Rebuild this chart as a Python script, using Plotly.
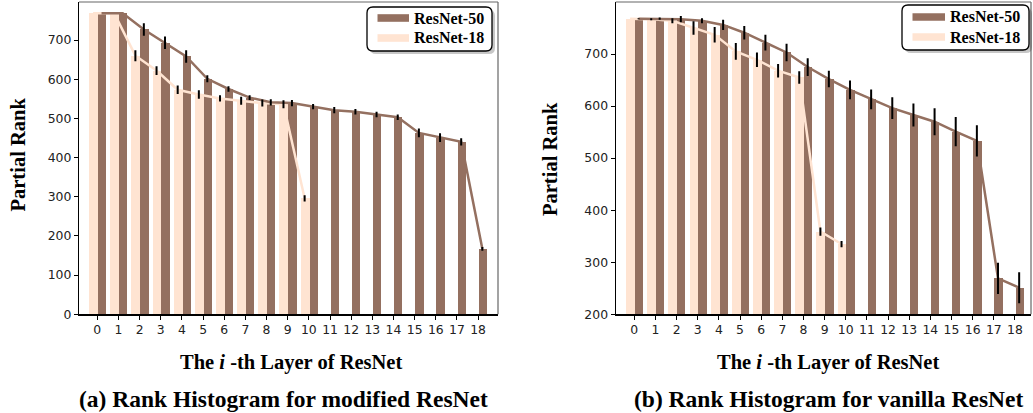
import plotly.graph_objects as go

W, H = 1033, 413

layers50 = list(range(19))
layers18 = list(range(11))

# (a) modified ResNet
r50_mod = [768, 768, 727, 693, 658, 601, 575, 553, 541, 539, 530, 521, 517, 510, 503, 463, 451, 440, 167]
r50_mod_err = [0, 0, 16, 16, 16, 9, 7, 6, 8, 8, 7, 8, 7, 7, 7, 11, 11, 9, 5]
r18_mod = [768, 768, 660, 622, 573, 561, 551, 545, 539, 536, 296]
r18_mod_err = [0, 0, 14, 11, 11, 11, 8, 10, 9, 10, 8]

# (b) vanilla ResNet
r50_van = [768, 768, 767, 764, 756, 741, 722, 703, 675, 652, 631, 613, 596, 583, 570, 551, 533, 269, 251]
r50_van_err = [1, 2, 6, 5, 10, 13, 15, 17, 17, 16, 18, 19, 21, 22, 26, 28, 30, 30, 30]
r18_van = [768, 767, 764, 750, 737, 705, 689, 668, 655, 359, 335]
r18_van_err = [0, 2, 5, 13, 15, 16, 14, 13, 12, 8, 6]

series_names = ["ResNet-50", "ResNet-18"]
x_title = "<b>The <i>i</i> -th Layer of ResNet</b>"
y_title = "<b>Partial Rank</b>"
captions = ["<b>(a) Rank Histogram for modified ResNet</b>",
            "<b>(b) Rank Histogram for vanilla ResNet</b>"]

BROWN = "#947060"
PEACH = "#FFE4D2"
SERIF = "Liberation Serif"


def px_x(p):
    return p / W


def px_y(p):
    return 1 - p / H


fig = go.Figure()


def add_panel(xa, ya, r50, e50, r18, e18):
    xr = "x" if xa == 1 else f"x{xa}"
    yr = "y" if ya == 1 else f"y{ya}"
    fig.add_trace(go.Bar(x=layers18, y=r18, offset=-0.39, width=0.42,
                         marker=dict(color=PEACH, line=dict(width=0)),
                         xaxis=xr, yaxis=yr, showlegend=False, name=series_names[1]))
    fig.add_trace(go.Bar(x=layers50, y=r50, offset=0.03, width=0.39,
                         marker=dict(color=BROWN, line=dict(width=0)),
                         xaxis=xr, yaxis=yr, showlegend=False, name=series_names[0]))
    x18 = [v - 0.2 for v in layers18]
    x50 = [v + 0.2 for v in layers50]
    fig.add_trace(go.Scatter(x=x18, y=r18, mode="lines", line=dict(color=PEACH, width=2.5),
                             xaxis=xr, yaxis=yr, showlegend=False))
    fig.add_trace(go.Scatter(x=x50, y=r50, mode="lines", line=dict(color=BROWN, width=2.5),
                             xaxis=xr, yaxis=yr, showlegend=False))
    for xs, ys, es in ((x18, r18, e18), (x50, r50, e50)):
        fig.add_trace(go.Scatter(x=xs, y=ys, mode="markers",
                                 marker=dict(size=1, color="rgba(0,0,0,0)"),
                                 error_y=dict(type="data", array=es, visible=True,
                                              width=0, thickness=2, color="black"),
                                 xaxis=xr, yaxis=yr, showlegend=False, hoverinfo="skip"))


add_panel(1, 1, r50_mod, r50_mod_err, r18_mod, r18_mod_err)
add_panel(2, 2, r50_van, r50_van_err, r18_van, r18_van_err)

# axes geometry (pixels)
top_px, bot_px = 2, 314.3
panels = [
    dict(x0=79, x1=498, xr=[-0.865, 18.94], yr=[0, 797], yt=[0, 100, 200, 300, 400, 500, 600, 700],
         ytitle_x=17.5, ytitle_y=155, xtitle_x=291, cap_x=283,
         leg=dict(bx0=367, bx1=492, by0=7, by1=51, sx0=377.5, sx1=409, tx=411.5, rows=[18, 38])),
    dict(x0=615.7, x1=1031, xr=[-0.88, 18.76], yr=[200, 800], yt=[200, 300, 400, 500, 600, 700],
         ytitle_x=550, ytitle_y=159, xtitle_x=828, cap_x=828,
         leg=dict(bx0=902, bx1=1029, by0=5, by1=50, sx0=912.5, sx1=945, tx=948, rows=[17, 37])),
]

tickfont = dict(family="DejaVu Sans", size=12.4, color="#222")
for i, p in enumerate(panels, start=1):
    xk = "xaxis" if i == 1 else f"xaxis{i}"
    yk = "yaxis" if i == 1 else f"yaxis{i}"
    fig.layout[xk] = dict(domain=[px_x(p["x0"]), px_x(p["x1"])], range=p["xr"],
                          tickmode="array", tickvals=layers50, ticktext=[str(v) for v in layers50],
                          showgrid=False, zeroline=False, showline=True, linecolor="black",
                          linewidth=1.2, ticks="outside", ticklen=4, tickcolor="black",
                          tickwidth=1, tickfont=tickfont, automargin=False,
                          anchor="y" if i == 1 else f"y{i}")
    fig.layout[yk] = dict(domain=[px_y(bot_px), px_y(top_px)], range=p["yr"],
                          tickmode="array", tickvals=p["yt"],
                          showgrid=False, zeroline=False, showline=True, linecolor="black",
                          linewidth=1.2, ticks="outside", ticklen=4, tickcolor="black",
                          tickwidth=1, tickfont=tickfont, automargin=False,
                          anchor="x" if i == 1 else f"x{i}")
    # top and right frame lines (lighter)
    fig.add_shape(type="line", xref="paper", yref="paper",
                  x0=px_x(p["x0"]), x1=px_x(p["x1"]), y0=px_y(top_px), y1=px_y(top_px),
                  line=dict(color="#666", width=1.2))
    fig.add_shape(type="line", xref="paper", yref="paper",
                  x0=px_x(p["x1"]), x1=px_x(p["x1"]), y0=px_y(top_px), y1=px_y(bot_px),
                  line=dict(color="#666", width=1.2))

    # axis titles and caption
    fig.add_annotation(text=y_title, x=px_x(p["ytitle_x"]), y=px_y(p["ytitle_y"]),
                       xref="paper", yref="paper", showarrow=False, textangle=-90,
                       font=dict(family=SERIF, size=20.5, color="black"),
                       xanchor="center", yanchor="middle")
    fig.add_annotation(text=x_title, x=px_x(p["xtitle_x"]), y=px_y(362),
                       xref="paper", yref="paper", showarrow=False,
                       font=dict(family=SERIF, size=20.5, color="black"),
                       xanchor="center", yanchor="middle")
    fig.add_annotation(text=captions[i - 1], x=px_x(p["cap_x"]), y=px_y(399),
                       xref="paper", yref="paper", showarrow=False,
                       font=dict(family=SERIF, size=23.5, color="black"),
                       xanchor="center", yanchor="middle")

    # legend box (rounded, with shadow)
    lg = p["leg"]

    def rrect(x0, y0, x1, y1, r=6):
        rx, ry = r / W, r / H
        X0, X1 = px_x(x0), px_x(x1)
        Y0, Y1 = px_y(y0), px_y(y1)  # Y0 top, Y1 bottom
        return (f"M {X0 + rx},{Y0} L {X1 - rx},{Y0} Q {X1},{Y0} {X1},{Y0 - ry} "
                f"L {X1},{Y1 + ry} Q {X1},{Y1} {X1 - rx},{Y1} "
                f"L {X0 + rx},{Y1} Q {X0},{Y1} {X0},{Y1 + ry} "
                f"L {X0},{Y0 - ry} Q {X0},{Y0} {X0 + rx},{Y0} Z")

    fig.add_shape(type="path", xref="paper", yref="paper",
                  path=rrect(lg["bx0"] + 3, lg["by0"] + 3, lg["bx1"] + 3, lg["by1"] + 3),
                  fillcolor="rgba(0,0,0,0.22)", line=dict(width=0))
    fig.add_shape(type="path", xref="paper", yref="paper",
                  path=rrect(lg["bx0"], lg["by0"], lg["bx1"], lg["by1"]),
                  fillcolor="white", line=dict(color="black", width=1.3))
    for name, col, cy in zip(series_names, [BROWN, PEACH], lg["rows"]):
        fig.add_shape(type="rect", xref="paper", yref="paper",
                      x0=px_x(lg["sx0"]), x1=px_x(lg["sx1"]),
                      y0=px_y(cy - 3.8), y1=px_y(cy + 3.8),
                      fillcolor=col, line=dict(width=0))
        fig.add_annotation(text=f"<b>{name}</b>", x=px_x(lg["tx"]), y=px_y(cy),
                           xref="paper", yref="paper", showarrow=False,
                           font=dict(family=SERIF, size=16, color="black"),
                           xanchor="left", yanchor="middle")

fig.update_layout(width=W, height=H, margin=dict(l=0, r=0, t=0, b=0, autoexpand=False),
                  barmode="overlay", bargap=0, hovermode=False,
                  plot_bgcolor="white", paper_bgcolor="white", showlegend=False)

fig.write_html("out.html", config={"displayModeBar": False, "staticPlot": True},
               post_script="document.body.style.margin='0px';")
